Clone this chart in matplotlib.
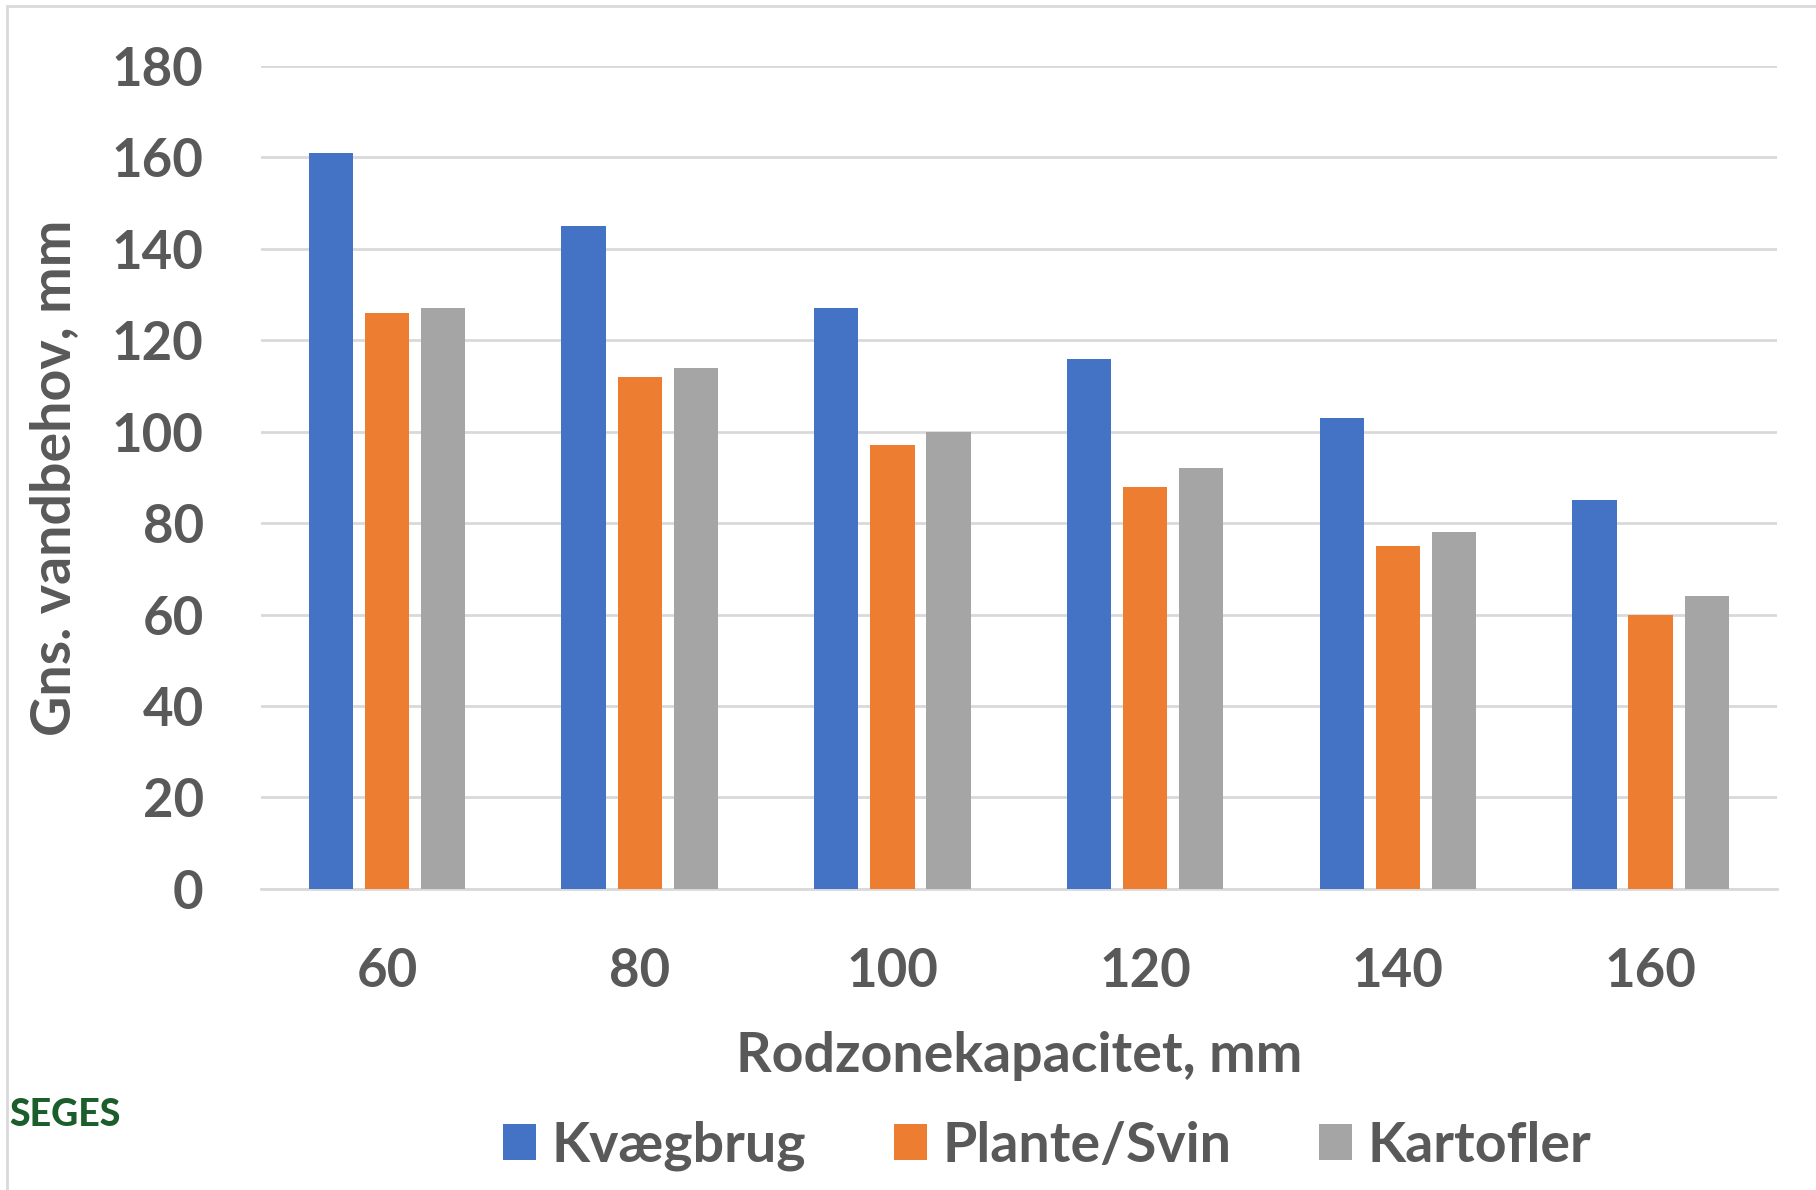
import numpy as np
import matplotlib.pyplot as plt
from matplotlib.patches import Rectangle

plt.rcParams['font.family'] = ['Lato', 'DejaVu Sans']

kapacitet = ['60', '80', '100', '120', '140', '160']
kvaegbrug = [161, 145, 127, 116, 103, 85]
plante_svin = [126, 112, 97, 88, 75, 60]
kartofler = [127, 114, 100, 92, 78, 64]
series_names = ['Kvægbrug', 'Plante/Svin', 'Kartofler']
colors = ['#4472c4', '#ed7d31', '#a5a5a5']
txt = '#595959'

fig = plt.figure(figsize=(18.16, 11.9), dpi=100)
ax = fig.add_axes([0.1435, 0.253, 0.835, 0.6915])

x = np.arange(len(kapacitet))
w = 0.175
step = 0.222
for i, (vals, name, c) in enumerate(zip([kvaegbrug, plante_svin, kartofler], series_names, colors)):
    ax.bar(x + (i - 1) * step, vals, w, color=c, label=name, zorder=3)

ax.set_xlim(-0.5, len(kapacitet) - 0.5)
ax.set_ylim(0, 180)
ax.set_yticks(range(0, 181, 20))
ax.set_xticks(x)
ax.set_xticklabels(kapacitet)
ax.yaxis.grid(True, color='#d9d9d9', linewidth=2, zorder=0)
for s in ['top', 'right', 'left']:
    ax.spines[s].set_visible(False)
ax.spines['bottom'].set_color('#d9d9d9')
ax.spines['bottom'].set_linewidth(2)
ax.tick_params(length=0, labelsize=38, labelcolor=txt)
ax.tick_params(axis='y', pad=41)
ax.tick_params(axis='x', pad=42)
for lab in ax.get_xticklabels() + ax.get_yticklabels():
    lab.set_fontweight('bold')

ax.set_xlabel('Rodzonekapacitet, mm', fontsize=40, fontweight='bold', color=txt, labelpad=25)
ax.set_ylabel('Gns. vandbehov, mm', fontsize=40, fontweight='bold', color=txt)
ax.yaxis.set_label_coords(-0.12, 0.5)

leg = fig.legend(loc='center', bbox_to_anchor=(0.5766, 0.037), ncol=3, frameon=False,
                 prop={'size': 40, 'weight': 'bold'}, handlelength=0.6, handleheight=0.6,
                 columnspacing=1.57, handletextpad=0.28)
for t in leg.get_texts():
    t.set_color(txt)

fig.text(0.005, 0.063, 'SEGES', fontsize=27, fontweight='black', color='#1b5e2b',
         ha='left', va='center')

fig.patches.append(Rectangle((0.004, -0.1), 1.2, 1.095, transform=fig.transFigure,
                             fill=False, edgecolor='#d9d9d9', linewidth=2))

fig.savefig('out.png', dpi=100)
